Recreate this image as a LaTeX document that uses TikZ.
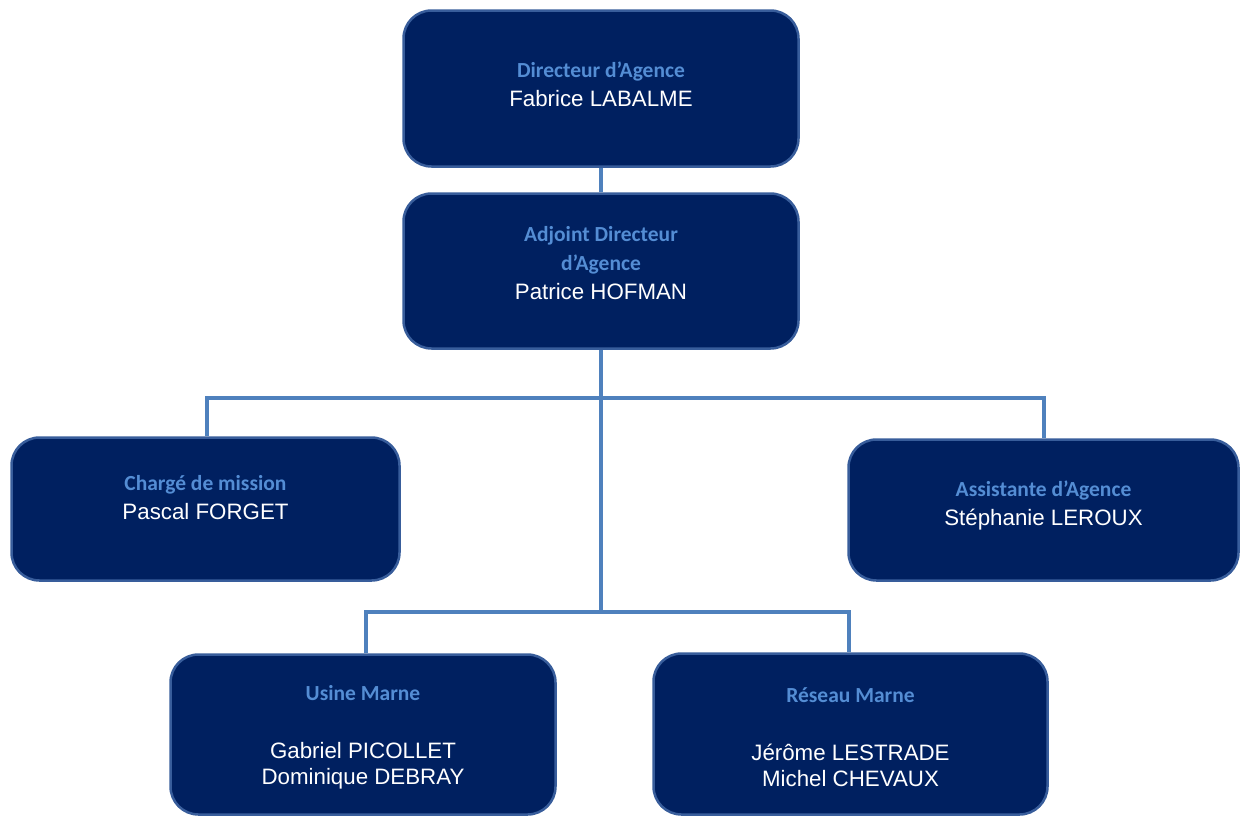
\documentclass[tikz,border=0pt]{standalone}
\usepackage{fontspec}
\setmainfont{Liberation Sans}
\newfontfamily\carlito{Carlito}
\usepackage{xcolor}
\usetikzlibrary{positioning}

\definecolor{boxfill}{RGB}{0,32,96}
\definecolor{boxline}{RGB}{56,93,155}
\definecolor{lienbleu}{RGB}{79,129,189}
\definecolor{postebleu}{RGB}{84,141,212}

\newcommand{\poste}[1]{{\carlito\bfseries\fontsize{21.5}{29}\selectfont\color{postebleu}#1}}

\begin{document}
\begin{tikzpicture}[x=1pt, y=-1pt, on grid,
    box/.style={draw=boxline, line width=2.5pt, fill=boxfill, rounded corners=28pt},
    txt/.style={align=center, text=white, font=\fontsize{22.3}{29}\selectfont},
    lien/.style={draw=lienbleu, line width=4pt}]

    \useasboundingbox (0,0) rectangle (1242,815);

    % cases
    \node[box, minimum width=395pt, minimum height=156pt] (dir) at (601,88.5) {};
    \node[box, minimum width=395pt, minimum height=155pt, below=182.5pt of dir] (adj) {};
    \node[box, minimum width=388pt, minimum height=143pt, below left=238pt and 395.5pt of adj] (charge) {};
    \node[box, minimum width=390pt, minimum height=141pt, below right=239pt and 442.5pt of adj] (assist) {};
    \node[box, minimum width=385pt, minimum height=160pt, below left=463.5pt and 238pt of adj] (usine) {};
    \node[box, minimum width=394pt, minimum height=161pt, below right=463pt and 249.5pt of adj] (reseau) {};

    % liaisons
    \coordinate (bus1) at (601,398);
    \coordinate (bus2) at (601,612);
    \draw[lien] (dir) -- (adj);
    \draw[lien] (adj.south) -- (bus2);
    \draw[lien] ([xshift=1.5pt]charge.north) |- (bus1) -| (assist.north);
    \draw[lien] ([xshift=3pt]usine.north) |- (bus2) -| ([xshift=-1.5pt]reseau.north);

    % textes
    \node[txt, yshift=4pt] (dir-t) at (dir) {\poste{Directeur d’Agence}\\ Fabrice LABALME};
    \node[txt, yshift=7.5pt] (adj-t) at (adj) {\poste{Adjoint Directeur}\\ \poste{d’Agence}\\ Patrice HOFMAN};
    \node[txt, yshift=11.5pt] (charge-t) at (charge) {\poste{Chargé de mission}\\ Pascal FORGET};
    \node[txt, yshift=4.5pt] (assist-t) at (assist) {\poste{Assistante d’Agence}\\ Stéphanie LEROUX};
    \node[txt, yshift=-3pt] (usine-t) at (usine) {\poste{Usine Marne}\\[29pt] Gabriel PICOLLET\\[-3pt] Dominique DEBRAY};
    \node[txt, yshift=-3pt] (reseau-t) at (reseau) {\poste{Réseau Marne}\\[29pt] Jérôme LESTRADE\\[-3pt] Michel CHEVAUX};

\end{tikzpicture}
\end{document}
